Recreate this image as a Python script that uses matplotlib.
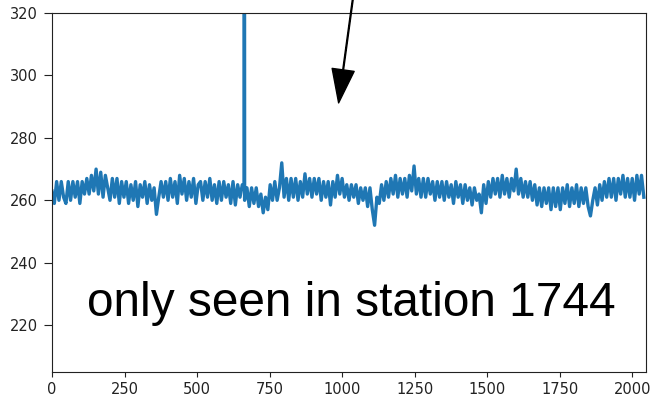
import numpy as np
import matplotlib
matplotlib.use("Agg")
import matplotlib.pyplot as plt

step = 8
values = [
    263, 259, 266, 260, 266, 261, 259, 266,
    260, 266, 261, 266, 259, 266, 262, 267,
    262, 268, 263, 270, 262, 269, 261, 268,
    264, 260, 267, 261, 267, 259, 266, 261,
    266, 259, 265, 260, 266, 258, 265, 261,
    266, 259, 265, 260, 264, 255.5, 261, 266,
    261, 266, 260, 267, 261, 266, 259, 268,
    262, 267, 260, 266, 261, 267, 259, 265,
    266, 260, 266, 261, 267, 260, 265, 259,
    266, 260, 266, 261, 265, 259, 266, 258.5,
    265, 261, 265, 260, 264, 258, 264, 259,
    264, 258, 262, 256, 261, 257, 265, 260,
    266, 260, 264, 272, 261, 267, 260, 267,
    261, 267, 260, 266, 261, 268.5, 262, 267,
    261, 267, 262, 267, 260, 266, 261, 266,
    258.5, 266, 261, 268, 262, 267, 261, 265,
    260, 265, 261, 265, 259, 264, 260, 264,
    258, 264, 257, 252, 261, 259, 265, 260,
    266, 261, 267, 262, 268, 261, 267, 262,
    267, 261, 268, 263, 271, 262, 267, 261,
    267, 261, 267, 262, 266, 260, 266, 261,
    266, 260, 266, 261, 265, 259, 266, 261,
    265, 259, 265, 260, 264, 258.5, 264, 260,
    262, 256, 265, 259, 266, 261, 267, 262,
    267, 261, 268, 262, 267, 261, 267, 263,
    270, 262, 267, 261, 266, 261, 266, 260,
    265, 258.5, 264, 258, 264, 259, 264, 257,
    264, 258, 264, 257, 264, 259, 265, 258,
    264, 259, 265, 258, 264, 259, 264, 258,
    255, 260, 264, 258.5, 265, 260, 266, 261,
    267, 261, 267, 260, 267, 262, 268, 261,
    267, 261, 267, 260, 268, 262, 268, 261,
]
# the single-sample spike near x = 663
spike_x = [662, 663, 664]
spike_y = [264, 480, 264]

label = "only seen in station 1744"

x = np.arange(len(values)) * step
y = np.array(values, dtype=float)
x = np.concatenate([x, spike_x])
y = np.concatenate([y, spike_y])
order = np.argsort(x, kind="stable")
x, y = x[order], y[order]

fig = plt.figure(figsize=(6.54, 3.94), dpi=100)
ax = fig.add_axes([0.0795, 0.0558, 0.9085, 0.9112])
ax.plot(x, y, color="#1f77b4", linewidth=2.4)
ax.set_xlim(0, 2048)
ax.set_ylim(205, 320)
ax.set_yticks([220, 240, 260, 280, 300, 320])
ax.set_xticks(range(0, 2001, 250))
ax.tick_params(labelsize=10.5, colors="#222222", labelcolor="#222222")
ax.tick_params(axis="y", length=6, pad=4)
for s in ax.spines.values():
    s.set_color("#222222")

ax.text(1030, 223, label, ha="center", va="baseline",
        fontsize=34.4, family="Liberation Sans", color="black")

ax.annotate("", xy=(988, 291.2), xytext=(1046, 330.6),
            arrowprops=dict(facecolor="black", edgecolor="black", width=0.6,
                            headwidth=16, headlength=24, shrink=0.0),
            annotation_clip=False)

fig.savefig("out.png", dpi=100)
